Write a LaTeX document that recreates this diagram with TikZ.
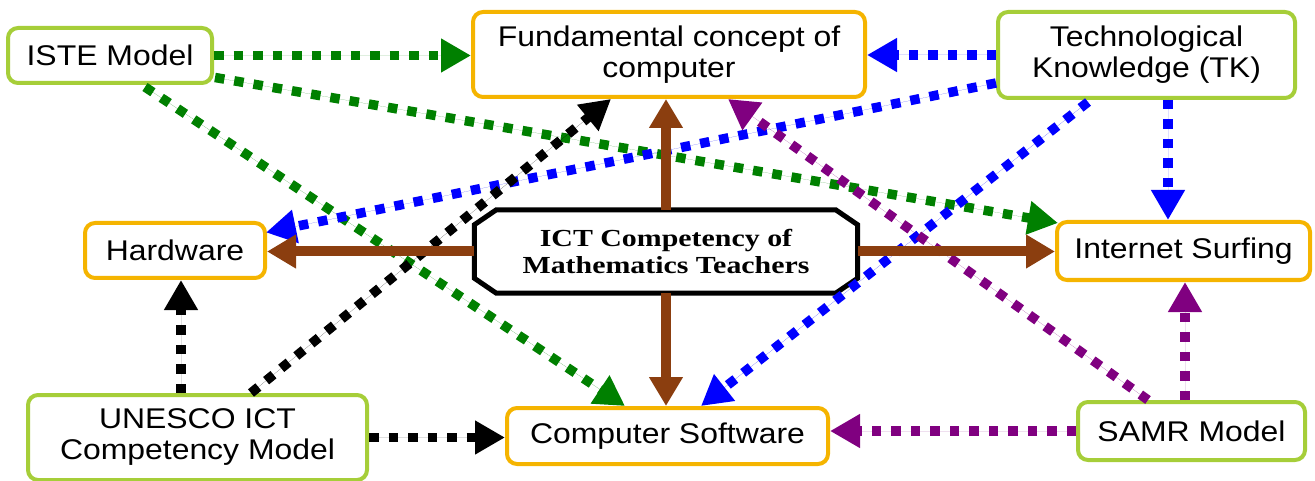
\documentclass[tikz,border=0pt]{standalone}
\usepackage{fontspec}
\setmainfont[FakeStretch=1.12]{Liberation Sans}
\newfontfamily\ctrfont[FakeStretch=1.22]{Liberation Serif}
\usetikzlibrary{arrows.meta,calc}
\definecolor{boxgreen}{RGB}{166,206,57}
\definecolor{boxorange}{RGB}{245,180,0}
\definecolor{arrgreen}{RGB}{0,128,0}
\definecolor{arrblue}{RGB}{0,0,255}
\definecolor{arrpurple}{RGB}{128,0,128}
\definecolor{arrbrown}{RGB}{139,62,15}
\tikzset{
  gbox/.style={draw=boxgreen, line width=4pt, rounded corners=10pt, fill=white, align=center, inner sep=0pt, font=\fontsize{28.5}{31}\selectfont},
  obox/.style={draw=boxorange, line width=4pt, rounded corners=10pt, fill=white, align=center, inner sep=0pt, font=\fontsize{28.5}{31}\selectfont},
  dotarrow/.style={line width=9.5pt, dash pattern=on 9.5pt off 10pt, -{Triangle[length=30pt,width=32pt]}},
  brownarrow/.style={draw=arrbrown, line width=10pt, -{Triangle[length=29pt,width=32pt]}},
}
\begin{document}
\begin{tikzpicture}[x=1pt,y=-1pt]
\useasboundingbox (0,0) rectangle (1315,481);
% nodes
\node[gbox, minimum width=204pt, minimum height=55pt] (iste) at (110,55.5) {ISTE Model};
\node[obox, minimum width=392pt, minimum height=85pt] (fund) at (669,54.5) {Fundamental concept of\\computer};
\node[gbox, minimum width=297pt, minimum height=86pt] (tk) at (1146.5,55) {Technological\\Knowledge (TK)};
\node[obox, minimum width=180pt, minimum height=55pt] (hw) at (175,250.5) {Hardware};
\node[minimum width=383pt, minimum height=83pt, inner sep=0pt] (ctr) at (666,251.5) {};
\node[obox, minimum width=253pt, minimum height=58pt] (inet) at (1183.5,251) {Internet Surfing};
\node[gbox, minimum width=339pt, minimum height=85pt] (unesco) at (197.5,437.5) {UNESCO ICT\\Competency Model};
\node[obox, minimum width=321pt, minimum height=56pt] (sw) at (667.5,436) {Computer Software};
\node[gbox, minimum width=227pt, minimum height=58pt] (samr) at (1191.5,431) {SAMR Model};
% octagon
\draw[line width=5pt, fill=white, line join=miter]
  ($(ctr.north west)+(22,0)$) -- ($(ctr.north east)+(-22,0)$) -- ($(ctr.north east)+(0,15)$)
  -- ($(ctr.south east)+(0,-15)$) -- ($(ctr.south east)+(-22,0)$) -- ($(ctr.south west)+(22,0)$)
  -- ($(ctr.south west)+(0,-15)$) -- ($(ctr.north west)+(0,15)$) -- cycle;
\node[align=center, font=\ctrfont\bfseries\fontsize{24.5}{26.5}\selectfont] (ctrtext) at (ctr.center) {ICT Competency of\\Mathematics Teachers};
% coordinates for connector ends
\coordinate (u1) at ($(unesco.north west)+(155,0)$);
\coordinate (t1) at ($(tk.south west)+(172,0)$);
\coordinate (s1) at ($(samr.north west)+(109,0)$);
% green
\draw[dotarrow, draw=arrgreen, fill=arrgreen] (iste.east) -- (iste.east -| fund.west);
\draw[dotarrow, draw=arrgreen, fill=arrgreen] ($(iste.east)+(1,22)$) -- ($(inet.north west)+(3,3)$);
\draw[dotarrow, draw=arrgreen, fill=arrgreen] ($(iste.south west)+(139,2)$) -- ($(sw.north west)+(120,0)$);
% blue
\draw[dotarrow, draw=arrblue, fill=arrblue] (tk.west) -- (tk.west -| fund.east);
\draw[dotarrow, draw=arrblue, fill=arrblue] ($(tk.west)+(0,28)$) -- ($(hw.east)+(-1,-18)$);
\draw[dotarrow, draw=arrblue, fill=arrblue] (t1) -- (t1 |- inet.north);
\draw[dotarrow, draw=arrblue, fill=arrblue] ($(tk.south west)+(92,2)$) -- ($(sw.north west)+(196,0)$);
% black
\draw[dotarrow, draw=black, fill=black] (u1) -- (u1 |- hw.south);
\draw[dotarrow, draw=black, fill=black] ($(unesco.north west)+(225,0)$) -- ($(fund.south west)+(140,0)$);
\draw[dotarrow, draw=black, fill=black] (unesco.east) -- (unesco.east -| sw.west);
% purple
\draw[dotarrow, draw=arrpurple, fill=arrpurple] (s1) -- (s1 |- inet.south);
\draw[dotarrow, draw=arrpurple, fill=arrpurple] ($(samr.north west)+(72,0)$) -- ($(fund.south west)+(257,0)$);
\draw[dotarrow, draw=arrpurple, fill=arrpurple] (samr.west) -- (samr.west -| sw.east);
% brown
\draw[brownarrow, fill=arrbrown] (ctr.north) -- (ctr.north |- fund.south);
\draw[brownarrow, fill=arrbrown] (ctr.south) -- (ctr.south |- sw.north);
\draw[brownarrow, fill=arrbrown] (ctr.west) -- (ctr.west -| hw.east);
\draw[brownarrow, fill=arrbrown] (ctr.east) -- (ctr.east -| inet.west);
\end{tikzpicture}
\end{document}
